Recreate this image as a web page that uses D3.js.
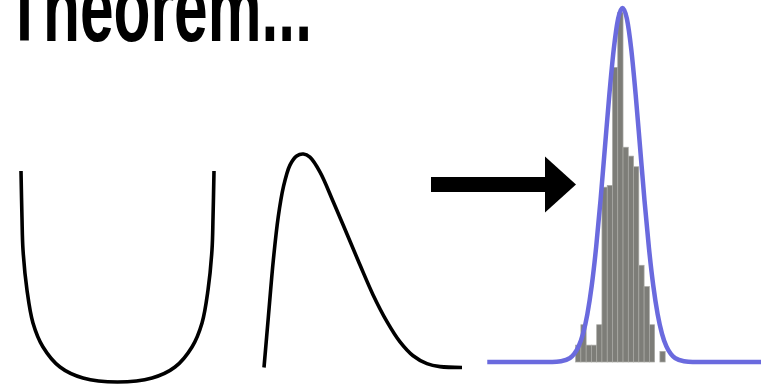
<!DOCTYPE html>
<html><head><meta charset="utf-8">
<script src="https://cdn.jsdelivr.net/npm/d3@7"></script>
<style>html,body{margin:0;padding:0;background:#fff;overflow:hidden}svg{display:block}</style>
</head><body>
<svg id="c" width="761" height="388"></svg>
<script>
// ---- data ----
const titleText = "Theorem...";
// U-shaped source distribution (normalized x, relative density)
const uX = [0, 0.005, 0.0104, 0.031, 0.062, 0.114, 0.202, 0.321, 0.5, 0.679, 0.798, 0.886, 0.938, 0.969, 0.9896, 0.995, 1];
const uY = [1.0, 0.782, 0.626, 0.436, 0.280, 0.166, 0.071, 0.019, 0, 0.019, 0.071, 0.166, 0.280, 0.436, 0.626, 0.782, 1.0];
// right-skewed source distribution
const skX = [0, 0.022, 0.047, 0.072, 0.098, 0.131, 0.165, 0.199, 0.232, 0.283, 0.348, 0.419, 0.485, 0.551, 0.621, 0.687, 0.753, 0.823, 0.889, 1];
const skY = [0, 0.237, 0.502, 0.706, 0.846, 0.948, 0.991, 1.0, 0.985, 0.915, 0.780, 0.625, 0.480, 0.340, 0.215, 0.120, 0.055, 0.018, 0.004, 0];
// histogram of sample means: bin edges (σ units) and densities
const binEdges = [-2.67, -2.37, -2.07, -1.77, -1.47, -1.17, -0.87, -0.57, -0.27, 0.03, 0.33, 0.63, 0.93, 1.23, 1.53, 1.83, 2.13, 2.43];
const binDens  = [0.019, 0.042, 0.019, 0.019, 0.042, 0.197, 0.199, 0.332, 0.394, 0.242, 0.232, 0.220, 0.109, 0.085, 0.042, 0, 0.012];
// fitted normal curve (σ units, density)
const nX = [-7.7, -4, -3.5, -3, -2.75, -2.5, -2.25, -2, -1.75, -1.5, -1.25, -1, -0.75, -0.5, -0.25, 0, 0.25, 0.5, 0.75, 1, 1.25, 1.5, 1.75, 2, 2.25, 2.5, 2.75, 3, 3.5, 4, 8];
const nY = [0, 0.0001, 0.0009, 0.0044, 0.0091, 0.0175, 0.0317, 0.0540, 0.0863, 0.1295, 0.1826, 0.2420, 0.3011, 0.3521, 0.3867, 0.3989, 0.3867, 0.3521, 0.3011, 0.2420, 0.1826, 0.1295, 0.0863, 0.0540, 0.0317, 0.0175, 0.0091, 0.0044, 0.0009, 0.0001, 0];

const svg = d3.select("#c");

// title
svg.append("text").attr("x", 6).attr("y", 41)
  .attr("font-family", "Liberation Sans, Arial, sans-serif").attr("font-weight", "bold")
  .attr("font-size", 96).attr("textLength", 306).attr("lengthAdjust", "spacingAndGlyphs")
  .attr("fill", "#000").text(titleText);

// U panel
const ux = d3.scaleLinear().domain([0, 1]).range([21, 214]);
const uy = d3.scaleLinear().domain([0, 1]).range([382, 171]);
svg.append("path").datum(d3.zip(uX, uY))
  .attr("d", d3.line().x(d => ux(d[0])).y(d => uy(d[1])).curve(d3.curveCatmullRom.alpha(0.5)))
  .attr("fill", "none").attr("stroke", "#000").attr("stroke-width", 3.6).attr("stroke-linecap", "butt");

// skewed panel
const sx = d3.scaleLinear().domain([0, 1]).range([264, 462]);
const sy = d3.scaleLinear().domain([0, 1]).range([367.5, 154]);
svg.append("path").datum(d3.zip(skX, skY))
  .attr("d", d3.line().x(d => sx(d[0])).y(d => sy(d[1])).curve(d3.curveCatmullRom.alpha(0.5)))
  .attr("fill", "none").attr("stroke", "#000").attr("stroke-width", 3.6);

// arrow
const ay = 184.5;
svg.append("rect").attr("x", 431).attr("y", ay - 7.5).attr("width", 118).attr("height", 15).attr("fill", "#000");
svg.append("path").attr("d", `M545,${ay-28} L576,${ay} L545,${ay+28} Z`).attr("fill", "#000");

// histogram panel
const hx = d3.scaleLinear().domain([-8, 8]).range([482, 763]);
const hy = d3.scaleLinear().domain([0, 0.4]).range([362, 7]);
svg.append("g").selectAll("rect").data(binDens).join("rect")
  .attr("x", (d, i) => hx(binEdges[i]))
  .attr("width", (d, i) => hx(binEdges[i + 1]) - hx(binEdges[i]))
  .attr("y", d => hy(d))
  .attr("height", d => hy(0) - hy(d))
  .attr("fill", "#7d7d78").attr("stroke", "#a9a9a4").attr("stroke-width", 0.7)
  .attr("visibility", d => d > 0 ? "visible" : "hidden");

svg.append("path").datum(d3.zip(nX, nY))
  .attr("d", d3.line().x(d => hx(d[0])).y(d => hy(d[1])).curve(d3.curveMonotoneX))
  .attr("fill", "none").attr("stroke", "#6a6ade").attr("stroke-width", 4.5).attr("stroke-linejoin", "round");
</script>
</body></html>
